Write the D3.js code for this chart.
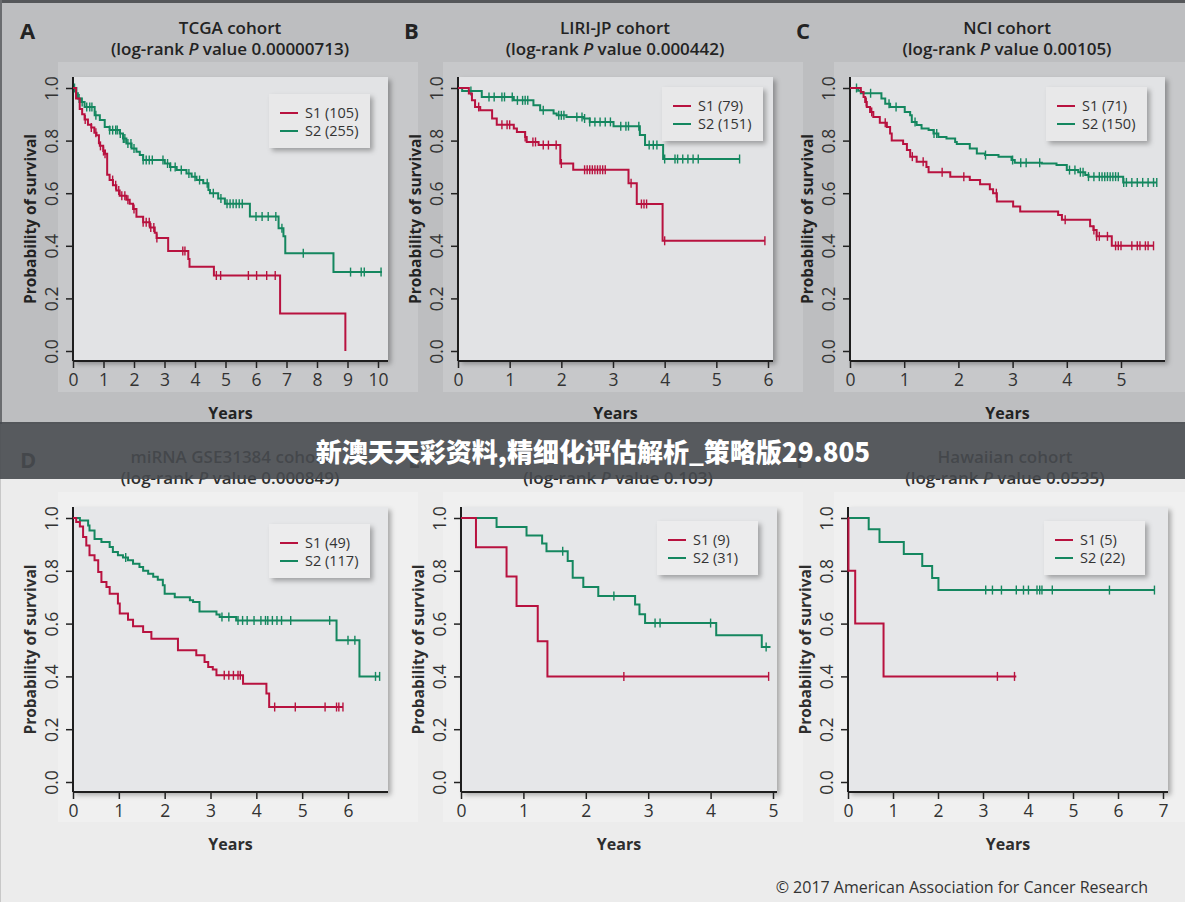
<!DOCTYPE html>
<html>
<head>
<meta charset="utf-8">
<script src="https://cdn.jsdelivr.net/npm/d3@7"></script>
<style>
body { margin: 0; background: #ececec; }
svg { display: block; font-family: "Open Sans", sans-serif; }
</style>
</head>
<body>
<script>

// survival steps [years, probability] and censor times
var aS1 = [[0,1],[0.1,0.96],[0.22,0.92],[0.3,0.90],[0.38,0.88],[0.49,0.86],[0.6,0.85],[0.7,0.83],[0.77,0.82],[0.85,0.79],[0.88,0.78],[0.99,0.76],[1.05,0.75],[1.12,0.67],[1.2,0.65],[1.31,0.63],[1.42,0.61],[1.53,0.59],[1.75,0.575],[1.86,0.56],[1.97,0.54],[2.08,0.51],[2.3,0.49],[2.52,0.47],[2.68,0.45],[2.74,0.43],[3.12,0.38],[3.78,0.35],[3.82,0.32],[4.62,0.287],[6.79,0.143],[8.93,0]];
var aS1Cens = [0.4,0.6,0.75,0.9,1.0,1.05,1.3,1.4,1.5,1.6,1.7,1.8,2.0,2.3,2.4,2.5,2.55,2.65,2.75,3.6,3.67,4.7,4.84,5.75,6.02,6.35,6.63];
var aS2 = [[0,1],[0.11,0.98],[0.16,0.96],[0.27,0.947],[0.38,0.928],[0.71,0.896],[0.88,0.878],[1.04,0.852],[1.2,0.84],[1.53,0.827],[1.64,0.808],[1.75,0.789],[1.92,0.77],[2.08,0.758],[2.19,0.745],[2.3,0.726],[3.01,0.713],[3.18,0.70],[3.4,0.688],[3.72,0.675],[3.89,0.663],[4.05,0.65],[4.27,0.638],[4.44,0.612],[4.49,0.60],[4.76,0.58],[4.98,0.56],[5.8,0.511],[6.74,0.467],[6.9,0.436],[6.96,0.372],[8.54,0.30],[10.13,0.30]];
var aS2Cens = [0.05,0.2,0.3,0.45,0.55,0.62,0.75,1.2,1.3,1.4,1.45,1.55,1.65,1.7,1.8,1.9,2.0,2.3,2.4,2.5,2.6,2.95,3.1,3.2,3.35,3.55,3.8,4.0,4.15,4.4,4.6,4.85,5.05,5.15,5.25,5.35,5.45,5.55,6.0,6.2,6.4,6.65,6.85,7.55,9.1,9.45,9.55,10.1];

var bS1 = [[0,1],[0.21,0.979],[0.27,0.953],[0.33,0.928],[0.43,0.915],[0.66,0.884],[0.75,0.86],[1.08,0.846],[1.14,0.833],[1.30,0.814],[1.33,0.795],[1.56,0.783],[1.98,0.713],[2.23,0.689],[3.30,0.638],[3.46,0.559],[3.96,0.419],[5.94,0.419]];
var bS1Cens = [0.4,0.85,0.95,1.0,1.3,1.45,1.5,1.65,1.75,1.9,2.0,2.45,2.5,2.55,2.6,2.65,2.7,2.75,2.8,2.85,3.35,3.55,3.6,3.65,4.0,5.94];
var bS2 = [[0,1],[0.08,0.989],[0.46,0.966],[1.08,0.953],[1.46,0.934],[1.59,0.915],[1.85,0.903],[1.91,0.896],[2.1,0.89],[2.43,0.884],[2.55,0.871],[3.01,0.855],[3.52,0.821],[3.62,0.783],[3.97,0.73],[5.45,0.73]];
var bS2Cens = [0.25,0.6,0.7,0.85,0.9,1.05,1.15,1.25,1.3,1.35,1.65,1.95,2.0,2.05,2.3,2.4,2.45,2.55,2.65,2.75,2.85,2.95,3.15,3.25,3.3,3.5,3.7,3.78,3.85,4.0,4.2,4.25,4.35,4.45,4.55,4.65,5.45];

var cS1 = [[0,1],[0.2,0.985],[0.25,0.966],[0.28,0.947],[0.31,0.928],[0.37,0.909],[0.43,0.89],[0.55,0.868],[0.68,0.852],[0.74,0.827],[0.77,0.80],[0.98,0.787],[1.05,0.764],[1.11,0.739],[1.23,0.72],[1.41,0.70],[1.45,0.68],[1.85,0.663],[2.21,0.65],[2.40,0.634],[2.58,0.615],[2.64,0.60],[2.71,0.568],[3.01,0.549],[3.14,0.53],[3.84,0.517],[3.91,0.499],[4.43,0.474],[4.49,0.46],[4.55,0.436],[4.83,0.40],[5.6,0.40]];
var cS1Cens = [0.3,0.4,0.65,1.15,1.35,1.7,2.1,2.7,3.97,4.5,4.55,4.6,4.75,4.9,4.95,5.0,5.2,5.3,5.35,5.45,5.5,5.6];
var cS2 = [[0,1],[0.15,0.99],[0.2,0.98],[0.58,0.96],[0.65,0.94],[0.74,0.928],[1.01,0.909],[1.11,0.896],[1.14,0.871],[1.23,0.859],[1.32,0.846],[1.45,0.84],[1.54,0.827],[1.63,0.814],[1.78,0.808],[1.94,0.795],[1.97,0.787],[2.21,0.77],[2.34,0.751],[2.49,0.745],[2.74,0.739],[2.98,0.726],[3.04,0.716],[3.54,0.713],[3.81,0.707],[4.0,0.688],[4.21,0.68],[4.34,0.669],[4.40,0.663],[5.04,0.641],[5.66,0.641]];
var cS2Cens = [0.12,0.38,0.72,0.85,1.2,1.55,1.6,2.5,3.0,3.15,3.25,3.5,4.05,4.15,4.25,4.3,4.4,4.5,4.6,4.65,4.7,4.75,4.8,4.85,4.9,4.95,5.05,5.1,5.2,5.3,5.4,5.5,5.6,5.66];

var dS1 = [[0,1],[0.07,0.985],[0.15,0.968],[0.22,0.928],[0.29,0.896],[0.36,0.859],[0.47,0.84],[0.55,0.795],[0.62,0.758],[0.73,0.739],[0.80,0.713],[0.98,0.676],[1.02,0.638],[1.2,0.615],[1.31,0.59],[1.53,0.568],[1.71,0.543],[2.29,0.499],[2.69,0.48],[2.87,0.455],[2.95,0.436],[3.05,0.426],[3.13,0.404],[3.71,0.372],[4.22,0.335],[4.28,0.284],[5.89,0.284]];
var dS1Cens = [3.3,3.4,3.5,3.6,3.65,4.4,4.85,5.5,5.75,5.8,5.89];
var dS2 = [[0,1],[0.15,0.991],[0.33,0.972],[0.36,0.953],[0.47,0.92],[0.62,0.909],[0.8,0.89],[0.87,0.871],[0.98,0.859],[1.09,0.85],[1.2,0.84],[1.31,0.827],[1.45,0.814],[1.53,0.80],[1.64,0.789],[1.75,0.777],[1.85,0.766],[1.96,0.745],[2.0,0.713],[2.22,0.70],[2.55,0.688],[2.62,0.682],[2.76,0.646],[3.13,0.634],[3.2,0.625],[3.56,0.612],[5.75,0.537],[6.25,0.40],[6.69,0.40]];
var dS2Cens = [1.15,3.25,3.4,3.6,3.7,3.8,3.95,4.1,4.2,4.25,4.35,4.45,4.55,4.75,5.6,6.0,6.15,6.6,6.69];

var eS1 = [[0,1],[0.24,0.889],[0.73,0.778],[0.89,0.667],[1.23,0.533],[1.385,0.40],[4.93,0.40]];
var eS1Cens = [2.61,4.93];
var eS2 = [[0,1],[0.57,0.966],[1.05,0.934],[1.3,0.903],[1.37,0.874],[1.71,0.837],[1.79,0.774],[1.96,0.739],[2.2,0.705],[2.79,0.672],[2.86,0.635],[2.95,0.602],[4.09,0.556],[4.82,0.511],[4.96,0.511]];
var eS2Cens = [1.63,2.45,3.11,3.19,4.0,4.89];

var fS1 = [[0,1],[0.01,0.8],[0.16,0.6],[0.79,0.4],[3.74,0.4]];
var fS1Cens = [3.32,3.70];
var fS2 = [[0,1],[0.46,0.957],[0.70,0.909],[1.24,0.864],[1.65,0.818],[1.87,0.773],[2.01,0.727],[6.81,0.727]];
var fS2Cens = [3.06,3.21,3.41,3.74,3.9,4.01,4.2,4.26,4.31,4.54,5.81,6.81];

var letters = ["A","B","C","D","E","F"];
var cohorts = ["TCGA cohort","LIRI-JP cohort","NCI cohort","miRNA GSE31384 cohort","","Hawaiian cohort"];
var pValues = ["0.00000713","0.000442","0.00105","0.000849","0.103","0.0535"];
var s1Labels = ["S1 (105)","S1 (79)","S1 (71)","S1 (49)","S1 (9)","S1 (5)"];
var s2Labels = ["S2 (255)","S2 (151)","S2 (150)","S2 (117)","S2 (31)","S2 (22)"];
var xMax = [10, 6, 5, 6, 5, 7];
var yTicks = [0, 0.2, 0.4, 0.6, 0.8, 1.0];

var s1Curves = [aS1, bS1, cS1, dS1, eS1, fS1];
var s2Curves = [aS2, bS2, cS2, dS2, eS2, fS2];
var s1Cens = [aS1Cens, bS1Cens, cS1Cens, dS1Cens, eS1Cens, fS1Cens];
var s2Cens = [aS2Cens, bS2Cens, cS2Cens, dS2Cens, eS2Cens, fS2Cens];

var RED = "#b8123f", GREEN = "#14875f";
var width = 1185, height = 902;

// panel geometry (pixels)
var layout = [
  {ax: 73,  xEnd: 378,  right: 388,  top: 77,  bottom: 361, y0: 351, y1: 88,  frame: [58, 62, 360, 330],  lx: 269,  ly: 94,  tx: 230,  letterX: 20,  row: 0},
  {ax: 458, xEnd: 768,  right: 773,  top: 77,  bottom: 361, y0: 351, y1: 88,  frame: [443, 62, 360, 330], lx: 662,  ly: 87,  tx: 615,  letterX: 404, row: 0},
  {ax: 850, xEnd: 1121, right: 1165, top: 77,  bottom: 361, y0: 351, y1: 88,  frame: [834, 62, 360, 330], lx: 1046, ly: 87,  tx: 1007, letterX: 796, row: 0},
  {ax: 73,  xEnd: 348,  right: 388,  top: 507, bottom: 792, y0: 782, y1: 518, frame: [58, 492, 360, 330], lx: 269,  ly: 524, tx: 230,  letterX: 20,  row: 1},
  {ax: 461, xEnd: 773,  right: 777,  top: 507, bottom: 792, y0: 782, y1: 518, frame: [443, 492, 360, 330], lx: 657,  ly: 521, tx: 618,  letterX: 408, row: 1},
  {ax: 848, xEnd: 1163, right: 1168, top: 507, bottom: 792, y0: 782, y1: 518, frame: [834, 492, 351, 330], lx: 1044, ly: 521, tx: 1005, letterX: 796, row: 1}
];

var svg = d3.select("body").append("svg")
    .attr("width", width)
    .attr("height", height);

var defs = svg.append("defs");
var sh = defs.append("filter").attr("id", "shadow")
    .attr("x", "-10%").attr("y", "-10%").attr("width", "130%").attr("height", "130%");
sh.append("feDropShadow").attr("dx", 3).attr("dy", 3).attr("stdDeviation", 2.5)
    .attr("flood-color", "#000").attr("flood-opacity", 0.3);

// page background: top half is dimmed
svg.append("rect").attr("width", width).attr("height", height).attr("fill", "#ececec");
svg.append("rect").attr("width", width).attr("height", 424).attr("fill", "#bdbec0");
svg.append("rect").attr("width", width).attr("height", 3).attr("fill", "#55575a");
svg.append("rect").attr("width", 2).attr("height", 424).attr("fill", "#6a6c6f");
svg.append("rect").attr("y", 424).attr("width", 1).attr("height", height - 424).attr("fill", "#c8c8c8");

var line = d3.line().curve(d3.curveStepAfter);

function survAt(curve, t) {
  var i = d3.bisector(function(d) { return d[0]; }).right(curve, t) - 1;
  return curve[Math.max(i, 0)][1];
}

layout.forEach(function(p, i) {
  var dim = p.row === 0;
  var g = svg.append("g");
  var x = d3.scaleLinear().domain([0, xMax[i]]).range([p.ax, p.xEnd]);
  var y = d3.scaleLinear().domain([0, 1]).range([p.y0, p.y1]);
  var ink = dim ? "#232323" : "#2e2e2e";

  g.append("rect")
      .attr("x", p.frame[0]).attr("y", p.frame[1])
      .attr("width", p.frame[2]).attr("height", p.frame[3])
      .attr("fill", dim ? "#c7c8ca" : "#f0f0f0");

  g.append("rect")
      .attr("x", p.ax).attr("y", p.top)
      .attr("width", p.right - p.ax).attr("height", p.bottom - p.top)
      .attr("fill", dim ? "#e2e3e5" : "#e6e7e9")
      .attr("filter", "url(#shadow)");

  // letter and title
  var ly = dim ? 39 : 468;
  g.append("text").attr("x", p.letterX).attr("y", ly)
      .attr("font-size", 22).attr("font-weight", 700).attr("fill", ink)
      .text(letters[i]);
  var t1 = dim ? 34 : 463;
  g.append("text").attr("x", p.tx).attr("y", t1)
      .attr("text-anchor", "middle").attr("font-size", 17).attr("font-weight", 600).attr("fill", ink)
      .text(cohorts[i]);
  var t2 = g.append("text").attr("x", p.tx).attr("y", t1 + 21)
      .attr("text-anchor", "middle").attr("font-size", 17).attr("font-weight", 600).attr("fill", ink);
  t2.append("tspan").text("(log-rank ");
  t2.append("tspan").attr("font-style", "italic").text("P");
  t2.append("tspan").text(" value " + pValues[i] + ")");

  // axes
  var gx = g.append("g")
      .attr("transform", "translate(0," + p.bottom + ")")
      .call(d3.axisBottom(x).tickValues(d3.range(0, xMax[i] + 1)).tickSize(7).tickPadding(6).tickFormat(d3.format("d")));
  gx.select(".domain").remove();
  gx.selectAll("line").attr("stroke", "#222").attr("stroke-width", 1.5);
  gx.selectAll("text").attr("font-size", 17.5).attr("fill", "#333").attr("font-family", "Open Sans");

  var gy = g.append("g")
      .attr("transform", "translate(" + p.ax + ",0)")
      .call(d3.axisLeft(y).tickValues(yTicks).tickSize(7).tickFormat(d3.format(".1f")));
  gy.select(".domain").remove();
  gy.selectAll("line").attr("stroke", "#222").attr("stroke-width", 1.5);
  gy.selectAll("text")
      .attr("x", 0).attr("y", -15).attr("dy", null)
      .attr("text-anchor", "middle")
      .attr("transform", "rotate(-90)")
      .attr("font-size", 17.5).attr("fill", "#333").attr("font-family", "Open Sans");

  g.append("line").attr("x1", p.ax).attr("x2", p.right).attr("y1", p.bottom).attr("y2", p.bottom)
      .attr("stroke", "#1e1e1e").attr("stroke-width", 2);
  g.append("line").attr("x1", p.ax).attr("x2", p.ax).attr("y1", p.top).attr("y2", p.bottom)
      .attr("stroke", "#1e1e1e").attr("stroke-width", 2);

  g.append("text")
      .attr("x", (p.ax + p.right) / 2).attr("y", p.bottom + 58)
      .attr("text-anchor", "middle").attr("font-size", 16).attr("font-weight", 700).attr("fill", ink)
      .text("Years");
  g.append("text")
      .attr("transform", "translate(" + (p.ax - 37) + "," + ((p.top + p.bottom) / 2) + ") rotate(-90)")
      .attr("text-anchor", "middle").attr("font-size", 15.5).attr("font-weight", 700).attr("fill", ink)
      .text("Probability of survival");

  // curves
  [[s2Curves[i], s2Cens[i], GREEN], [s1Curves[i], s1Cens[i], RED]].forEach(function(c) {
    g.append("path")
        .attr("d", line(c[0].map(function(d) { return [x(d[0]), y(d[1])]; })))
        .attr("fill", "none").attr("stroke", c[2]).attr("stroke-width", 2);
    g.selectAll(null).data(c[1]).enter().append("line")
        .attr("x1", function(d) { return x(d); })
        .attr("x2", function(d) { return x(d); })
        .attr("y1", function(d) { return y(survAt(c[0], d)) - 4.5; })
        .attr("y2", function(d) { return y(survAt(c[0], d)) + 4.5; })
        .attr("stroke", c[2]).attr("stroke-width", 1.4);
  });

  // legend
  var lg = g.append("g").attr("transform", "translate(" + p.lx + "," + p.ly + ")");
  lg.append("rect").attr("width", 101).attr("height", 54)
      .attr("fill", dim ? "#e8e8e9" : "#ececed").attr("filter", "url(#shadow)");
  [[s1Labels[i], RED, 19], [s2Labels[i], GREEN, 37]].forEach(function(r) {
    lg.append("line").attr("x1", 11).attr("x2", 29).attr("y1", r[2]).attr("y2", r[2])
        .attr("stroke", r[1]).attr("stroke-width", 2);
    lg.append("text").attr("x", 36).attr("y", r[2] + 5)
        .attr("font-size", 14.5).attr("fill", "#333")
        .text(r[0]);
  });
});

// footer
svg.append("text")
    .attr("x", 1148).attr("y", 893)
    .attr("text-anchor", "end").attr("font-size", 16).attr("fill", "#333")
    .text("\u00a9 2017 American Association for Cancer Research");

// banner across the middle
svg.append("rect")
    .attr("x", 0).attr("y", 422).attr("width", width).attr("height", 57)
    .attr("fill", "#474a4f").attr("opacity", 0.9);
svg.append("text")
    .attr("x", 593).attr("y", 462)
    .attr("text-anchor", "middle")
    .attr("font-family", "'Noto Sans CJK SC', sans-serif")
    .attr("font-size", 26).attr("font-weight", 900).attr("fill", "#fff")
    .text("新澳天天彩资料,精细化评估解析_策略版29.805");

</script>
</body>
</html>
